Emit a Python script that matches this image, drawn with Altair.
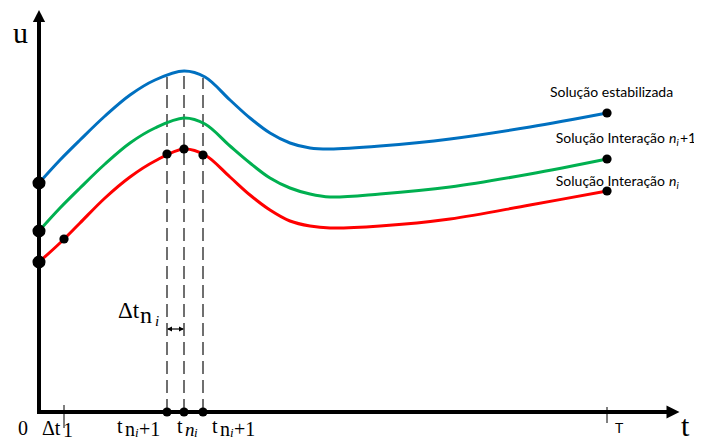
import altair as alt
import pandas as pd

# ---- curve data (t, u) ----
t_vals = [0, 21, 41, 66, 91, 116, 145, 166, 191, 211, 231, 251, 271, 291, 341, 411, 491, 568]
u_blue = [229, 252, 272, 296, 317, 332, 341, 335, 312, 294, 279, 269, 264, 263, 266, 273, 285, 299]
u_green = [181, 204, 224, 248, 269, 284, 294, 288, 266, 249, 234, 224, 218, 215, 218, 225, 238, 253]
u_red = [150, 169, 189, 214, 235, 251, 263, 257, 235, 217, 202, 191, 186, 184, 186, 193, 207, 221]
series_names = ["estabilizada", "n+1", "n"]
series_colors = ["#0070C0", "#00B050", "#FF0000"]

# markers
big_dot_t = [0, 0, 0]
big_dot_u = [229, 181, 150]
dot_t = [25, 128, 145, 164, 568, 568, 568, 128, 145, 164]
dot_u = [173, 258, 263, 257, 299, 253, 221, 0, 0, 0]
dash_t = [128, 145, 164]
dash_top = [335, 341, 334]
tick_t = [25, 568]

T_MIN, T_MAX = -31, 655
U_MIN, U_MAX = -25, 404

xs = alt.Scale(domain=[T_MIN, T_MAX], nice=False, zero=False)
ys = alt.Scale(domain=[U_MIN, U_MAX], nice=False, zero=False)

rows = []
for name, us in zip(series_names, [u_blue, u_green, u_red]):
    for i, (t, u) in enumerate(zip(t_vals, us)):
        rows.append({"t": t, "u": u, "s": name, "o": i})
curves = pd.DataFrame(rows)

line = alt.Chart(curves).mark_line(interpolate="catmull-rom", strokeWidth=3).encode(
    x=alt.X("t:Q", scale=xs, axis=None),
    y=alt.Y("u:Q", scale=ys, axis=None),
    color=alt.Color("s:N", scale=alt.Scale(domain=series_names, range=series_colors), legend=None),
    detail="s:N",
    order="o:Q",
)

# axes
axes_df = pd.DataFrame({"t": [-2, 0], "t2": [630, 0], "u": [0, -2], "u2": [0, 390]})
axes = alt.Chart(axes_df).mark_rule(color="black", strokeWidth=4).encode(
    x=alt.X("t:Q", scale=xs, axis=None), x2="t2:Q",
    y=alt.Y("u:Q", scale=ys, axis=None), y2="u2:Q",
)
up_head = alt.Chart(pd.DataFrame({"t": [0], "u": [396]})).mark_point(
    shape="M-1,1L0,-1L1,1Z", filled=True, color="black", opacity=1, size=150, strokeWidth=0
).encode(x=alt.X("t:Q", scale=xs, axis=None), y=alt.Y("u:Q", scale=ys, axis=None))
right_head = alt.Chart(pd.DataFrame({"t": [634], "u": [0]})).mark_point(
    shape="M-1,-1L1,0L-1,1Z", filled=True, color="black", opacity=1, size=170, strokeWidth=0
).encode(x=alt.X("t:Q", scale=xs, axis=None), y=alt.Y("u:Q", scale=ys, axis=None))

# dashed guides
dash_df = pd.DataFrame({"t": dash_t, "u": [0, 0, 0], "u2": dash_top})
dashes = alt.Chart(dash_df).mark_rule(color="#404040", strokeWidth=1.5, strokeDash=[13, 6]).encode(
    x=alt.X("t:Q", scale=xs, axis=None),
    y=alt.Y("u:Q", scale=ys, axis=None), y2="u2:Q",
)

# ticks on t axis
ticks_df = pd.DataFrame({"t": tick_t, "u": [7, 5], "u2": [-16, -11]})
ticks = alt.Chart(ticks_df).mark_rule(color="black", strokeWidth=1).encode(
    x=alt.X("t:Q", scale=xs, axis=None),
    y=alt.Y("u:Q", scale=ys, axis=None), y2="u2:Q",
)

# delta-t double arrow
dt_df = pd.DataFrame({"t": [129], "t2": [144], "u": [83]})
dt_rule = alt.Chart(dt_df).mark_rule(color="black", strokeWidth=1.2).encode(
    x=alt.X("t:Q", scale=xs, axis=None), x2="t2:Q",
    y=alt.Y("u:Q", scale=ys, axis=None),
)
dt_left = alt.Chart(pd.DataFrame({"t": [130.5], "u": [83]})).mark_point(
    shape="M1,-1L-1,0L1,1Z", filled=True, color="black", opacity=1, size=25, strokeWidth=0
).encode(x=alt.X("t:Q", scale=xs, axis=None), y=alt.Y("u:Q", scale=ys, axis=None))
dt_right = alt.Chart(pd.DataFrame({"t": [142.5], "u": [83]})).mark_point(
    shape="M-1,-1L1,0L-1,1Z", filled=True, color="black", opacity=1, size=25, strokeWidth=0
).encode(x=alt.X("t:Q", scale=xs, axis=None), y=alt.Y("u:Q", scale=ys, axis=None))

# dots
big = alt.Chart(pd.DataFrame({"t": big_dot_t, "u": big_dot_u})).mark_circle(
    color="black", opacity=1, size=170
).encode(x=alt.X("t:Q", scale=xs, axis=None), y=alt.Y("u:Q", scale=ys, axis=None))
small = alt.Chart(pd.DataFrame({"t": dot_t, "u": dot_u})).mark_circle(
    color="black", opacity=1, size=85
).encode(x=alt.X("t:Q", scale=xs, axis=None), y=alt.Y("u:Q", scale=ys, axis=None))

# text pieces
SERIF = "Liberation Serif"
SANS = "Lato"
serif_normal = pd.DataFrame([
    {"t": -26, "u": 369, "txt": "u", "sz": 30},
    {"t": 642, "u": -24, "txt": "t", "sz": 30},
    {"t": -21, "u": -23, "txt": "0", "sz": 20},
    {"t": 3, "u": -23, "txt": "Δt", "sz": 20},
    {"t": 24, "u": -25, "txt": "1", "sz": 20},
    {"t": 78, "u": -21, "txt": "t", "sz": 20},
    {"t": 86, "u": -24, "txt": "n", "sz": 20},
    {"t": 100, "u": -24, "txt": "+1", "sz": 20},
    {"t": 138, "u": -21, "txt": "t", "sz": 20},
    {"t": 173, "u": -21, "txt": "t", "sz": 20},
    {"t": 181, "u": -24, "txt": "n", "sz": 20},
    {"t": 195, "u": -24, "txt": "+1", "sz": 20},
    {"t": 79, "u": 94, "txt": "Δt", "sz": 23},
    {"t": 101, "u": 89, "txt": "n", "sz": 24},
])
serif_italic = pd.DataFrame([
    {"t": 96, "u": -25, "txt": "i", "sz": 13},
    {"t": 146, "u": -24, "txt": "n", "sz": 19},
    {"t": 155, "u": -25, "txt": "i", "sz": 13},
    {"t": 191, "u": -25, "txt": "i", "sz": 13},
    {"t": 116, "u": 86, "txt": "i", "sz": 15},
])
sans_left = pd.DataFrame([
    {"t": 511, "u": 315, "txt": "Solução estabilizada", "sz": 14},
    {"t": 641, "u": 269, "txt": "+1", "sz": 14},
    {"t": 576, "u": -21, "txt": "T", "sz": 14},
])
sans_right = pd.DataFrame([
    {"t": 626, "u": 269, "txt": "Solução Interação", "sz": 14},
    {"t": 626, "u": 226, "txt": "Solução Interação", "sz": 14},
])
sans_italic = pd.DataFrame([
    {"t": 630, "u": 269, "txt": "n", "sz": 14},
    {"t": 637.5, "u": 266, "txt": "i", "sz": 10},
    {"t": 630, "u": 226, "txt": "n", "sz": 14},
    {"t": 637.5, "u": 223, "txt": "i", "sz": 10},
])


def text_layer(df, font, style="normal", align="left"):
    return alt.Chart(df).mark_text(
        font=font, fontStyle=style, align=align, baseline="alphabetic", color="black"
    ).encode(
        x=alt.X("t:Q", scale=xs, axis=None),
        y=alt.Y("u:Q", scale=ys, axis=None),
        text="txt:N",
        size=alt.Size("sz:Q", scale=None, legend=None),
    )


texts = alt.layer(
    text_layer(serif_normal, SERIF),
    text_layer(serif_italic, SERIF, "italic"),
    text_layer(sans_left, SANS),
    text_layer(sans_right, SANS, align="right"),
    text_layer(sans_italic, SANS, "italic"),
)

chart = alt.layer(
    dashes, ticks, axes, up_head, right_head, line, dt_rule, dt_left, dt_right, big, small, texts
).properties(
    width=686, height=429, autosize=alt.AutoSizeParams(type="none"), padding=0,
    background="white",
).configure_view(stroke=None)

chart.save("out.html", embed_options={"renderer": "svg", "actions": False})
